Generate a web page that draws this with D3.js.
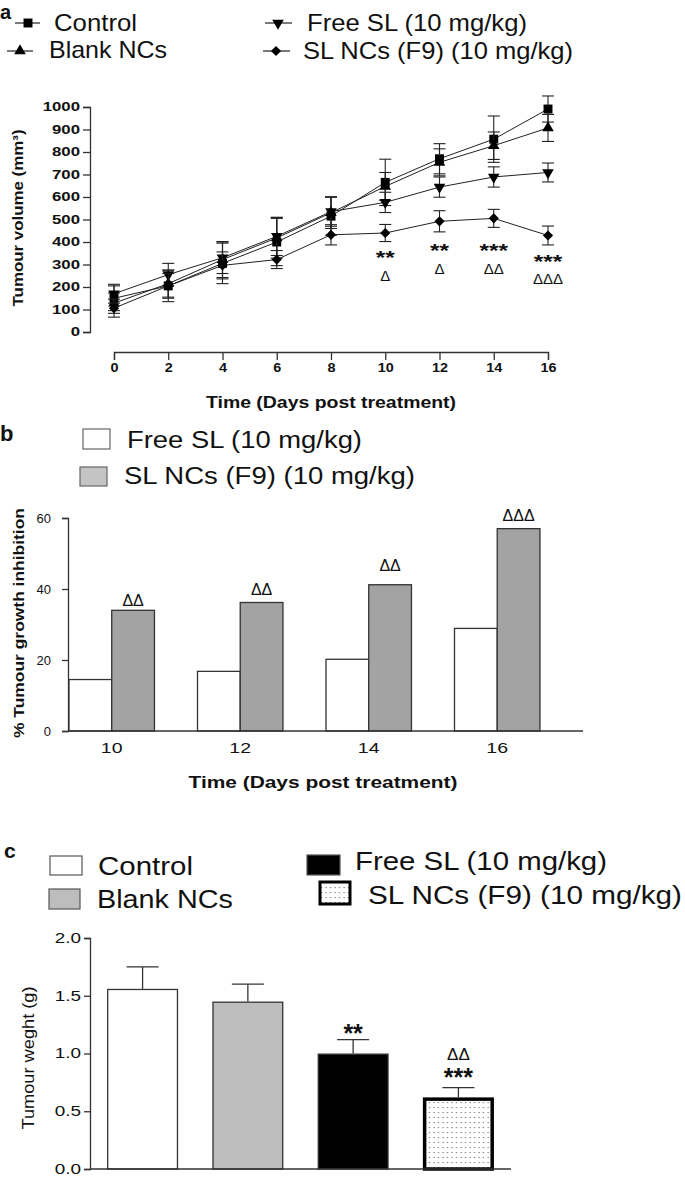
<!DOCTYPE html>
<html><head><meta charset="utf-8">
<script src="https://cdn.jsdelivr.net/npm/d3@7"></script>
<style>
body{margin:0;background:#fff}
svg{display:block}
text{font-family:"Liberation Sans",Arial,sans-serif;fill:#111}
</style>
</head><body>
<svg id="chart" width="685" height="1178"></svg>
<script>
// ---------- Panel a data ----------
const days = [0, 2, 4, 6, 8, 10, 12, 14, 16];
const seriesNames = ["Control", "Blank NCs", "Free SL (10 mg/kg)", "SL NCs (F9) (10 mg/kg)"];
const controlVol = [150, 205, 305, 400, 515, 665, 770, 857, 991];
const controlErr = [55, 70, 90, 105, 85, 103, 67, 103, 58];
const blankVol = [128, 215, 322, 418, 530, 647, 754, 828, 907];
const blankErr = [45, 60, 80, 90, 70, 62, 60, 61, 60];
const freeVol = [170, 255, 330, 425, 535, 576, 644, 689, 709];
const freeErr = [42, 50, 70, 85, 65, 45, 45, 45, 42];
const nanoVol = [106, 205, 296, 322, 432, 440, 492, 505, 429];
const nanoErr = [40, 55, 60, 40, 45, 38, 47, 40, 42];
const yTicksA = [0, 100, 200, 300, 400, 500, 600, 700, 800, 900, 1000];
const sigDaysA = [10, 12, 14, 16];
const sigStarsA = ["**", "**", "***", "***"];
const sigStarsYA = [331, 362, 362, 313];
const sigDeltaA = ["Δ", "Δ", "ΔΔ", "ΔΔΔ"];
const sigDeltaYA = [253, 284, 284, 236];

// ---------- Panel b data ----------
const bDays = ["10", "12", "14", "16"];
const bSeries = ["Free SL (10 mg/kg)", "SL NCs (F9) (10 mg/kg)"];
const bFree = [14.5, 16.8, 20.2, 28.9];
const bNano = [34.0, 36.2, 41.2, 57.0];
const bSig = ["ΔΔ", "ΔΔ", "ΔΔ", "ΔΔΔ"];
const bSigY = [36.9, 40.0, 46.5, 60.8];
const yTicksB = [0, 20, 40, 60];

// ---------- Panel c data ----------
const cGroups = ["Control", "Blank NCs", "Free SL (10 mg/kg)", "SL NCs (F9) (10 mg/kg)"];
const cWeight = [1.56, 1.45, 1.00, 0.62];
const cErr = [0.19, 0.15, 0.12, 0.085];
const cStars = ["", "", "**", "***"];
const cStarsY = [0, 0, 1.22, 0.84];
const cDelta = ["", "", "", "ΔΔ"];
const cDeltaY = [0, 0, 0, 0.99];
const yTicksC = [0, 0.5, 1.0, 1.5, 2.0];

const svg = d3.select("#chart");
const INK = "#222";

function stretch(sel, sx) {
  sel.each(function () {
    const w = this.getComputedTextLength();
    if (w > 0) d3.select(this).attr("textLength", w * sx).attr("lengthAdjust", "spacingAndGlyphs");
  });
}
function label(g, str, x, y, o) {
  const t = g.append("text").text(str)
    .attr("font-size", o.size).attr("font-weight", o.bold ? "bold" : "normal")
    .attr("text-anchor", o.anchor || "start").attr("dominant-baseline", o.baseline || "central");
  if (o.rotate) t.attr("transform", `translate(${x},${y}) rotate(-90)`);
  else t.attr("x", x).attr("y", y);
  if (o.dy) t.attr("dy", o.dy);
  if (o.len) t.attr("textLength", o.len).attr("lengthAdjust", "spacingAndGlyphs");
  return t;
}

// ================= PANEL A =================
const gA = svg.append("g");
const xA = d3.scaleLinear().domain([0, 16]).range([114, 548]);
const yA = d3.scaleLinear().domain([0, 1000]).range([332, 107]);

label(gA, "a", 0, 18.5, {size: 20, bold: true, baseline: "alphabetic"});

const symbols = [
  {gen: d3.symbol().type(d3.symbolSquare).size(80), rot: 0},
  {gen: d3.symbol().type(d3.symbolTriangle).size(58), rot: 0},
  {gen: d3.symbol().type(d3.symbolTriangle).size(58), rot: 180},
  {gen: d3.symbol().type(d3.symbolSquare).size(52), rot: 45}
];
const seriesVals = [controlVol, blankVol, freeVol, nanoVol];
const seriesErrs = [controlErr, blankErr, freeErr, nanoErr];

// legend a
const legPosA = [
  {mx: 28, my: 23, x0: 15, x1: 40, tx: 54, ty: 22, len: 83},
  {mx: 20, my: 51, x0: 7, x1: 33, tx: 49, ty: 49, len: 118},
  {mx: 278, my: 23, x0: 265, x1: 292, tx: 307, ty: 22, len: 220},
  {mx: 276, my: 51, x0: 263, x1: 290, tx: 303, ty: 50, len: 270}
];
seriesNames.forEach((n, i) => {
  const p = legPosA[i];
  gA.append("line").attr("x1", p.x0).attr("x2", p.x1).attr("y1", p.my).attr("y2", p.my).attr("stroke", INK).attr("stroke-width", 1.2);
  gA.append("path").attr("d", symbols[i].gen()).attr("fill", "#000")
    .attr("transform", `translate(${p.mx},${p.my}) rotate(${symbols[i].rot})`);
  label(gA, n, p.tx, p.ty, {size: 24, len: p.len});
});

// axes a
const yAxA = gA.append("g").attr("transform", "translate(90,0)")
  .call(d3.axisLeft(yA).tickValues(yTicksA).tickFormat(d3.format("d")).tickSize(7).tickPadding(3));
yAxA.selectAll("text").attr("font-size", 12).attr("font-weight", "bold").attr("fill", "#111");
stretch(yAxA.selectAll("text"), 1.4);
const xAxA = gA.append("g").attr("transform", "translate(0,352)")
  .call(d3.axisBottom(xA).tickValues(days).tickSize(8).tickPadding(3));
xAxA.selectAll("text").attr("font-size", 12).attr("font-weight", "bold").attr("fill", "#111");
stretch(xAxA.selectAll("text"), 1.2);
[yAxA, xAxA].forEach(a => { a.selectAll("path,line").attr("stroke", "#333").attr("stroke-width", 1.3); a.attr("font-family", null); });

label(gA, "Tumour volume (mm³)", 17, 218, {size: 15, bold: true, anchor: "middle", rotate: true, len: 177});
label(gA, "Time (Days post treatment)", 331, 402, {size: 16, bold: true, anchor: "middle", len: 250});

// series
const lineA = d3.line().x((d, i) => xA(days[i])).y(d => yA(d));
seriesVals.forEach((vals, s) => {
  const errs = seriesErrs[s];
  const g = gA.append("g");
  g.append("path").datum(vals).attr("d", lineA).attr("fill", "none").attr("stroke", INK).attr("stroke-width", 1);
  vals.forEach((v, i) => {
    const x = xA(days[i]);
    g.append("line").attr("x1", x).attr("x2", x).attr("y1", yA(v - errs[i])).attr("y2", yA(v + errs[i])).attr("stroke", INK).attr("stroke-width", 1.1);
    [v - errs[i], v + errs[i]].forEach(e => g.append("line").attr("x1", x - 6).attr("x2", x + 6).attr("y1", yA(e)).attr("y2", yA(e)).attr("stroke", INK).attr("stroke-width", 1.1));
  });
  vals.forEach((v, i) => {
    g.append("path").attr("d", symbols[s].gen()).attr("fill", "#000")
      .attr("transform", `translate(${xA(days[i])},${yA(v)}) rotate(${symbols[s].rot})`);
  });
});

sigDaysA.forEach((d, i) => {
  label(gA, sigStarsA[i], xA(d), yA(sigStarsYA[i]), {size: 18, bold: true, anchor: "middle", len: 9.5 * sigStarsA[i].length});
  label(gA, sigDeltaA[i], xA(d), yA(sigDeltaYA[i]), {size: 15, anchor: "middle"});
});

// ================= PANEL B =================
const gB = svg.append("g");
const xB = d3.scaleBand().domain(bDays).range([69, 583]).paddingInner(0.335).paddingOuter(0.1675).align(0);
const subB = d3.scaleBand().domain([0, 1]).range([0, xB.bandwidth()]);
const yB = d3.scaleLinear().domain([0, 60]).range([731, 518]);

label(gB, "b", 0, 441, {size: 22, bold: true, baseline: "alphabetic"});
gB.append("rect").attr("x", 83).attr("y", 429).attr("width", 27).attr("height", 20).attr("fill", "#fff").attr("stroke", "#666").attr("stroke-width", 1.2);
label(gB, bSeries[0], 127, 440, {size: 23, len: 235});
gB.append("rect").attr("x", 80).attr("y", 467).attr("width", 27).attr("height", 19).attr("fill", "#c4c4c4").attr("stroke", "#666").attr("stroke-width", 1.2);
label(gB, bSeries[1], 124, 476, {size: 23, len: 291});

const yAxB = gB.append("g").attr("transform", "translate(68,0)")
  .call(d3.axisLeft(yB).tickValues(yTicksB).tickSize(6).tickPadding(11));
yAxB.selectAll("text").attr("font-size", 13).attr("fill", "#111");
yAxB.selectAll("path,line").attr("stroke", "#333").attr("stroke-width", 1.3);
yAxB.attr("font-family", null);

bDays.forEach((d, i) => {
  [bFree[i], bNano[i]].forEach((v, j) => {
    gB.append("rect").attr("x", xB(d) + subB(j)).attr("y", yB(v)).attr("width", subB.bandwidth()).attr("height", yB(0) - yB(v))
      .attr("fill", j === 0 ? "#fff" : "#a3a3a3").attr("stroke", "#333").attr("stroke-width", 1.3);
  });
  label(gB, bSig[i], xB(d) + subB(1) + subB.bandwidth() / 2, yB(bSigY[i]), {size: 16, anchor: "middle"});
  const t = label(gB, d, xB(d) + xB.bandwidth() / 2, 747, {size: 15, anchor: "middle"});
  stretch(t, 1.3);
});
gB.append("line").attr("x1", 68).attr("x2", xB.range()[1]).attr("y1", yB(0)).attr("y2", yB(0)).attr("stroke", "#333").attr("stroke-width", 1.3);

label(gB, "% Tumour growth inhibition", 18, 623, {size: 15, bold: true, anchor: "middle", rotate: true, len: 230});
label(gB, "Time (Days post treatment)", 323, 782, {size: 17, bold: true, anchor: "middle", len: 269});

// ================= PANEL C =================
const gC = svg.append("g");
const defs = svg.append("defs");
const pat = defs.append("pattern").attr("id", "dots").attr("patternUnits", "userSpaceOnUse").attr("width", 4.5).attr("height", 5);
pat.append("rect").attr("width", 4.5).attr("height", 5).attr("fill", "#fff");
pat.append("rect").attr("x", 1.5).attr("y", 2).attr("width", 1.1).attr("height", 1.1).attr("fill", "#666");

const cFill = ["#fff", "#bdbdbd", "#000", "url(#dots)"];
const cStrokeW = [1.3, 1.3, 1.3, 3.5];

const xC = d3.scaleBand().domain(cGroups).range([90, 511]).paddingInner(0.325).paddingOuter(0.162);
const yC = d3.scaleLinear().domain([0, 2]).range([1169, 938]);

label(gC, "c", 4, 858, {size: 21, bold: true, baseline: "alphabetic"});
const legPosC = [
  {bx: 50, by: 856, bw: 32, bh: 19, tx: 98, ty: 866, len: 95},
  {bx: 49, by: 889, bw: 31, bh: 20, tx: 97, ty: 899, len: 136},
  {bx: 307, by: 855, bw: 33, bh: 20, tx: 355, ty: 861, len: 252},
  {bx: 320, by: 882, bw: 30, bh: 22, tx: 368, ty: 895, len: 314}
];
cGroups.forEach((n, i) => {
  const p = legPosC[i];
  gC.append("rect").attr("x", p.bx).attr("y", p.by).attr("width", p.bw).attr("height", p.bh)
    .attr("fill", cFill[i]).attr("stroke", i === 3 ? "#000" : "#555").attr("stroke-width", i === 3 ? 3 : 1.2);
  label(gC, n, p.tx, p.ty, {size: 26, len: p.len});
});

const yAxC = gC.append("g").attr("transform", "translate(90,0)")
  .call(d3.axisLeft(yC).tickValues(yTicksC).tickFormat(d3.format(".1f")).tickSize(6).tickPadding(3));
yAxC.selectAll("text").attr("font-size", 14).attr("fill", "#111");
stretch(yAxC.selectAll("text"), 1.35);
yAxC.selectAll("path,line").attr("stroke", "#333").attr("stroke-width", 1.3);
yAxC.attr("font-family", null);

cGroups.forEach((gname, i) => {
  const x = xC(gname), w = xC.bandwidth(), cx = x + w / 2;
  const top = yC(cWeight[i] + cErr[i]);
  gC.append("line").attr("x1", cx).attr("x2", cx).attr("y1", yC(cWeight[i])).attr("y2", top).attr("stroke", "#333").attr("stroke-width", 1.3);
  gC.append("line").attr("x1", cx - 16).attr("x2", cx + 16).attr("y1", top).attr("y2", top).attr("stroke", "#333").attr("stroke-width", 1.3);
  const sw = cStrokeW[i];
  gC.append("rect").attr("x", x + sw / 2).attr("y", yC(cWeight[i]) + sw / 2).attr("width", w - sw).attr("height", yC(0) - yC(cWeight[i]) - sw / 2)
    .attr("fill", cFill[i]).attr("stroke", i === 3 ? "#000" : "#333").attr("stroke-width", sw);
  if (cStars[i]) label(gC, cStars[i], cx, yC(cStarsY[i]), {size: 25, bold: true, anchor: "middle", dy: "0.2em"});
  if (cDelta[i]) label(gC, cDelta[i], cx, yC(cDeltaY[i]), {size: 17, anchor: "middle"});
});
gC.append("line").attr("x1", 90).attr("x2", 511).attr("y1", yC(0)).attr("y2", yC(0)).attr("stroke", "#333").attr("stroke-width", 1.3);

label(gC, "Tumour weght (g)", 28, 1058, {size: 17, anchor: "middle", rotate: true, len: 143});
</script>
</body></html>
